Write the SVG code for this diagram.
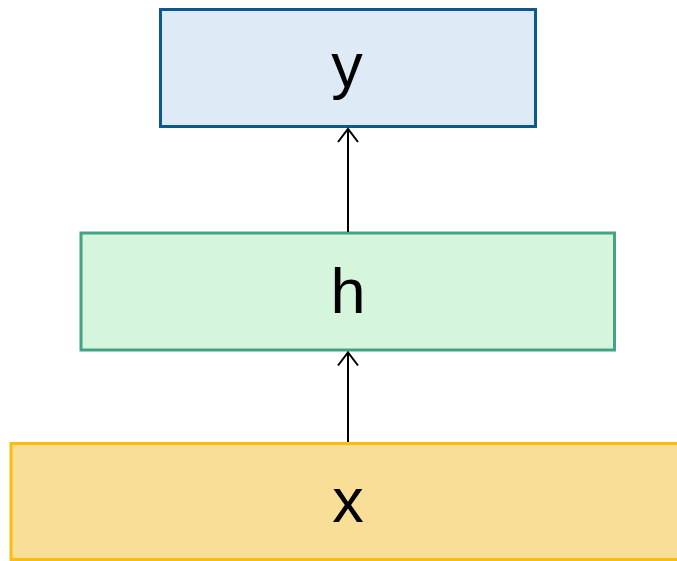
<svg xmlns="http://www.w3.org/2000/svg" width="677" height="561" viewBox="0 0 677 561">
<defs>
<style>
.box{stroke-width:3}
.lbl{font-family:"Liberation Sans",Arial,sans-serif;font-size:63px;fill:#000;text-anchor:middle}
.edge{stroke:#000;stroke-width:2;fill:none}
</style>
<marker id="arr" markerWidth="24" markerHeight="24" refX="14" refY="11" orient="auto" markerUnits="userSpaceOnUse">
<path d="M1,1 L14,11 L1,21" fill="none" stroke="#000" stroke-width="2"/>
</marker>
</defs>
<rect width="677" height="561" fill="#fff"/>
<g id="node-x">
<rect class="box" x="11" y="443.5" width="676" height="116" fill="#f8de97" stroke="#fcbd11"/>
<text class="lbl" x="348" y="522">x</text>
</g>
<g id="node-h">
<rect class="box" x="81" y="233" width="533.5" height="117" fill="#d5f5dd" stroke="#43a484"/>
<text class="lbl" x="348" y="313">h</text>
</g>
<g id="node-y">
<rect class="box" x="160.5" y="9.5" width="375" height="117" fill="#dfeaf7" stroke="#0b5a8a"/>
<text class="lbl" x="347" y="87">y</text>
</g>
<g id="connectors">
<line class="edge" x1="348" y1="442" x2="348" y2="352.5" marker-end="url(#arr)"/>
<line class="edge" x1="348" y1="232" x2="348" y2="129" marker-end="url(#arr)"/>
</g>
</svg>
